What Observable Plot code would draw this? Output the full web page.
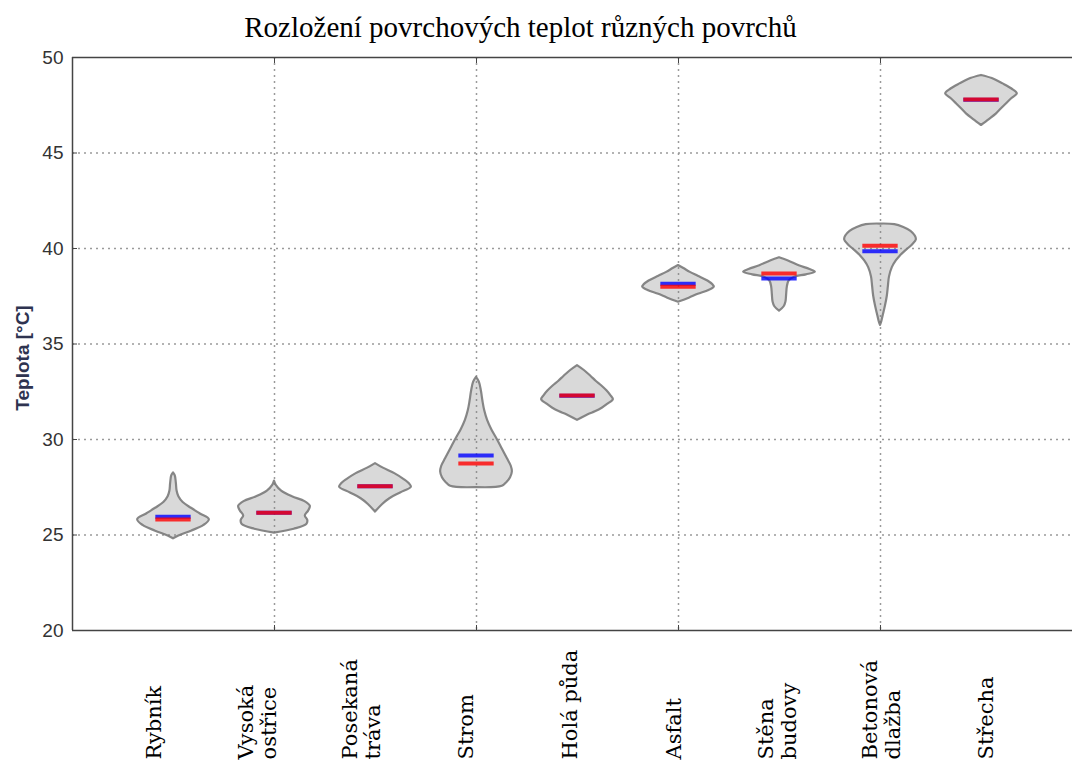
<!DOCTYPE html>
<html>
<head>
<meta charset="utf-8">
<script src="https://cdn.jsdelivr.net/npm/d3@7"></script>
<script src="https://cdn.jsdelivr.net/npm/@observablehq/plot@0.6"></script>
<style>
  html, body { margin: 0; padding: 0; background: #fff; }
  #chart svg { display: block; }
</style>
</head>
<body>
<div id="chart"></div>
<script>
// Surface categories (x positions 1..9)
const categories = [
  "Rybník", "Vysoká\nostřice", "Posekaná\ntráva", "Strom", "Holá půda",
  "Asfalt", "Stěna\nbudovy", "Betonová\ndlažba", "Střecha"
];

// Mean (blue) and median (red) surface temperature, °C
const means   = [25.96, 26.17, 27.55, 29.16, 32.29, 38.15, 38.43, 39.85, 47.79];
const medians = [25.81, 26.17, 27.55, 28.74, 32.30, 38.00, 38.69, 40.15, 47.80];

// Kernel density profiles: [temperature °C, relative density (1 = widest)]
const rybnik = [[28.25,0],[28.1,0.05],[27.7,0.08],[27.3,0.1],[27.0,0.15],[26.7,0.27],[26.4,0.5],[26.1,0.75],[25.8,1.0],[25.5,0.85],[25.2,0.5],[24.95,0.15],[24.8,0]];
const vysokaOstrice = [[27.82,0],[27.6,0.05],[27.3,0.2],[27.0,0.5],[26.75,0.85],[26.5,1.0],[26.25,0.95],[26.0,0.86],[25.75,0.93],[25.55,0.9],[25.3,0.55],[25.1,0]];
const posekanaTrava = [[28.74,0],[28.5,0.22],[28.2,0.55],[27.9,0.8],[27.65,0.96],[27.5,1.0],[27.2,0.7],[26.9,0.4],[26.6,0.2],[26.2,0]];
const strom = [[33.25,0],[33.0,0.08],[32.5,0.14],[32.0,0.18],[31.5,0.23],[31.0,0.31],[30.5,0.43],[30.0,0.58],[29.5,0.72],[29.0,0.86],[28.6,0.97],[28.3,1.0],[28.0,0.95],[27.75,0.85],[27.55,0.72],[27.48,0]];
const holaPuda = [[33.87,0],[33.6,0.2],[33.3,0.38],[33.05,0.52],[32.8,0.68],[32.55,0.82],[32.3,0.93],[32.08,1.0],[31.85,0.85],[31.65,0.7],[31.45,0.5],[31.3,0.3],[31.0,0]];
const asfalt = [[39.11,0],[38.95,0.15],[38.75,0.33],[38.55,0.55],[38.3,0.82],[38.1,0.96],[37.98,1.0],[37.8,0.85],[37.6,0.55],[37.4,0.3],[37.19,0]];
const stenaBudovy = [[39.52,0],[39.35,0.25],[39.1,0.55],[38.9,0.85],[38.76,1.0],[38.62,0.75],[38.5,0.42],[38.3,0.27],[38.0,0.22],[37.6,0.2],[37.2,0.18],[36.95,0.13],[36.72,0]];
const betonovaDlazba = [[41.28,0],[41.25,0.4],[41.1,0.65],[40.9,0.85],[40.65,0.97],[40.45,1.0],[40.2,0.9],[39.9,0.72],[39.6,0.55],[39.35,0.44],[39.0,0.33],[38.5,0.25],[38.0,0.22],[37.5,0.19],[37.0,0.14],[36.6,0.09],[36.2,0.04],[35.97,0]];
const strecha = [[49.06,0],[48.9,0.3],[48.62,0.6],[48.35,0.85],[48.1,1.0],[47.85,0.85],[47.58,0.7],[47.3,0.55],[47.05,0.42],[46.75,0.22],[46.44,0]];

const profiles = [rybnik, vysokaOstrice, posekanaTrava, strom, holaPuda, asfalt, stenaBudovy, betonovaDlazba, strecha];

// Axis ticks
const yTicks = [20, 25, 30, 35, 40, 45, 50];
const xGridTicks = [2, 4, 6, 8];

const title = "Rozložení povrchových teplot různých povrchů";
const yLabel = "Teplota [°C]";

// Drawing parameters
const halfWidth = 0.355;   // half width of the widest part of each violin (x units)
const lineHalf = 0.175;    // half length of mean / median bars

const violinRows = profiles.flatMap((prof, i) =>
  prof.map(([t, d]) => ({cat: categories[i], pos: i + 1, t, d}))
);
const statRows = (vals) => vals.map((v, i) => ({pos: i + 1, v}));

const gridStyle = {stroke: "#9a9a9a", strokeOpacity: 1, strokeWidth: 1.5, strokeDasharray: "2,4"};
const spine = "#444";

const chart = Plot.plot({
  width: 1072,
  height: 765,
  marginLeft: 72,
  marginRight: 0,
  marginTop: 57,
  marginBottom: 135,
  style: {fontFamily: "'Liberation Sans', Arial, sans-serif", background: "#fff"},
  x: {domain: [0, 10], range: [72, 1082], axis: null},
  y: {domain: [20, 50], axis: null},
  marks: [
    Plot.gridY(yTicks.slice(1, -1), gridStyle),
    Plot.gridX(xGridTicks, gridStyle),
    // violins
    Plot.areaX(violinRows, {
      y: "t",
      x1: r => r.pos - r.d * halfWidth,
      x2: r => r.pos + r.d * halfWidth,
      z: "cat",
      fill: "#808080",
      fillOpacity: 0.3,
      stroke: "#7a7a7a",
      strokeOpacity: 0.9,
      strokeWidth: 2.2,
      curve: "catmull-rom"
    }),
    // mean (blue) then median (red)
    Plot.ruleY(statRows(means), {
      y: "v", x1: r => r.pos - lineHalf, x2: r => r.pos + lineHalf,
      stroke: "#0000ff", strokeOpacity: 0.8, strokeWidth: 4
    }),
    Plot.ruleY(statRows(medians), {
      y: "v", x1: r => r.pos - lineHalf, x2: r => r.pos + lineHalf,
      stroke: "#ff0000", strokeOpacity: 0.8, strokeWidth: 4
    }),
    // frame
    Plot.ruleY([20, 50], {stroke: spine, strokeWidth: 1.5}),
    Plot.ruleX([0], {stroke: spine, strokeWidth: 1.5}),
    // inward ticks
    Plot.axisY(yTicks, {anchor: "left", tickSize: -5, tickFormat: () => "", stroke: spine}),
    Plot.axisX(xGridTicks, {anchor: "bottom", tickSize: -5, tickFormat: () => "", stroke: spine}),
    Plot.axisX(xGridTicks, {anchor: "top", tickSize: -5, tickFormat: () => "", stroke: spine}),
    // y tick labels
    Plot.axisY(yTicks, {anchor: "left", tickSize: 0, tickPadding: 9, fontSize: 19, fill: "#333"}),
    // y axis title
    Plot.text([yLabel], {
      frameAnchor: "left", dx: -50, dy: 14, rotate: -90,
      textAnchor: "middle",
      fontSize: 19, fontWeight: "bold", fill: "#2e3350"
    }),
    // category labels
    Plot.text(categories, {
      x: (d, i) => i + 1 + (-0.2 + 0.03 * i),
      y: () => 20,
      dy: 129,
      rotate: -90,
      textAnchor: "start",
      lineAnchor: "middle",
      lineHeight: 1.1,
      fontFamily: "'DejaVu Serif', serif",
      fontSize: 21,
      fill: "#000"
    }),
    // title
    Plot.text([title], {
      frameAnchor: "top-left", dx: 448, dy: -21,
      textAnchor: "middle", lineAnchor: "bottom",
      fontFamily: "'Liberation Serif', 'Times New Roman', serif",
      fontSize: 29, fill: "#000"
    })
  ]
});

document.getElementById("chart").appendChild(chart);
</script>
</body>
</html>
